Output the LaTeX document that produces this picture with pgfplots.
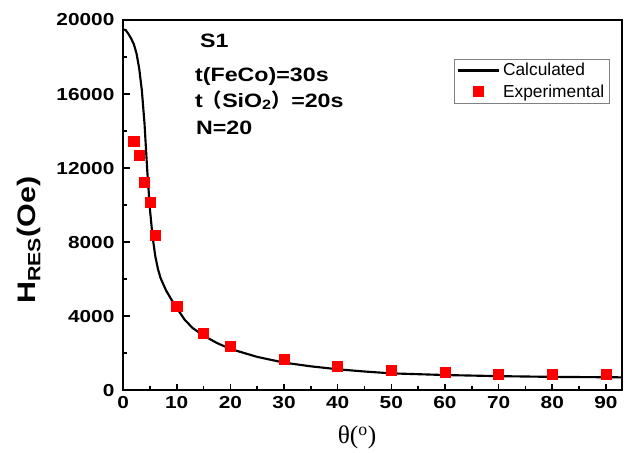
\documentclass[border=0pt]{standalone}
\usepackage{pgfplots}
\pgfplotsset{compat=1.18}
\usepackage{fontspec}
\setmainfont{Liberation Sans}[FakeStretch=1.2]
\newfontfamily\legfont{Liberation Sans}
\newfontfamily\serif{Liberation Serif}
\newfontfamily\cjk{Noto Sans CJK SC}

\pgfplotstableread{
x y
0 19500
0.5 19450
1 19250
1.5 19000
2 18700
2.5 18200
3 17400
3.5 16200
4 14400
4.5 11900
5 9800
5.5 8300
6 7250
6.5 6550
7 6050
8 5400
9 4900
10 4450
11.5 3800
13 3350
15 2950
17.5 2550
20 2230
25 1800
30 1490
35 1290
40 1130
45 1010
50 910
60 820
70 760
80 720
90 700
93 695
}\calc

\pgfplotstableread{
x y
2 13460
3 12700
4 11240
5 10160
6 8380
10 4540
15 3080
20 2380
30 1660
40 1300
50 1080
60 955
70 880
80 850
90 850
}\expt

\pgfplotsset{
    lineleg/.style={legend image code/.code={\draw[##1] (0pt,0pt) -- (31pt,0pt);}},
    markleg/.style={legend image code/.code={\draw[##1] plot coordinates {(15.5pt,0pt)};}},
}
\tikzset{note/.style={anchor=base west, inner sep=0pt, font=\bfseries\fontsize{14.5}{15}\selectfont}}

\begin{document}
\begin{tikzpicture}
\begin{axis}[
    scale only axis,
    width=374pt, height=277.5pt,
    xmin=0, xmax=93, ymin=0, ymax=20000,
    xtick={0,10,...,90}, ytick={0,4000,...,20000},
    minor x tick num=1, minor y tick num=1,
    xtick pos=left, ytick pos=left,
    tick align=inside,
    major tick length=5pt, minor tick length=3pt,
    every tick/.style={black, line width=1.2pt},
    axis line style={line width=1.5pt},
    /pgf/number format/assume math mode=true,
    /pgf/number format/1000 sep={},
    scaled y ticks=false,
    ticklabel style={font=\bfseries\fontsize{13}{14}\selectfont},
    xticklabel style={yshift=-1pt},
    yticklabel style={xshift=-3pt},
    xlabel={\serif\fontsize{19}{20}\selectfont θ(\textsuperscript{o})},
    xlabel style={at={(axis description cs:0.469,-0.127)}, anchor=center},
    ylabel={\bfseries\fontsize{19}{20}\selectfont H\textsubscript{RES}(Oe)},
    ylabel style={at={(axis description cs:-0.188,0.405)}, anchor=center},
    legend style={at={(axis description cs:0.976,0.895)}, anchor=north east,
        draw=gray, line width=0.6pt, font=\legfont\fontsize{13}{13.5}\selectfont,
        inner xsep=2pt, inner ysep=1pt, row sep=1pt},
    legend cell align=left,
]
\addplot[black, line width=1.6pt, no marks, lineleg]
    table[x=x, y=y] {\calc};
\addlegendentry{Calculated}
\addplot[only marks, mark=square*, mark size=3.8pt, color=red, markleg]
    table[x=x, y=y] {\expt};
\addlegendentry{Experimental}

\node[note] at (axis description cs:0.154,0.927) {S1};
\node[note] at (axis description cs:0.144,0.835) {t(FeCo)=30s};
\node[note] at (axis description cs:0.144,0.765) {t{\cjk （}SiO\textsubscript{2}{\cjk ）}=20s};
\node[note] at (axis description cs:0.146,0.692) {N=20};
\end{axis}
\pgfresetboundingbox
\path (current axis.south west) ++(-92.25pt,-46.5pt) rectangle ([shift={(13.5pt,15pt)}]current axis.north east);
\end{tikzpicture}
\end{document}
